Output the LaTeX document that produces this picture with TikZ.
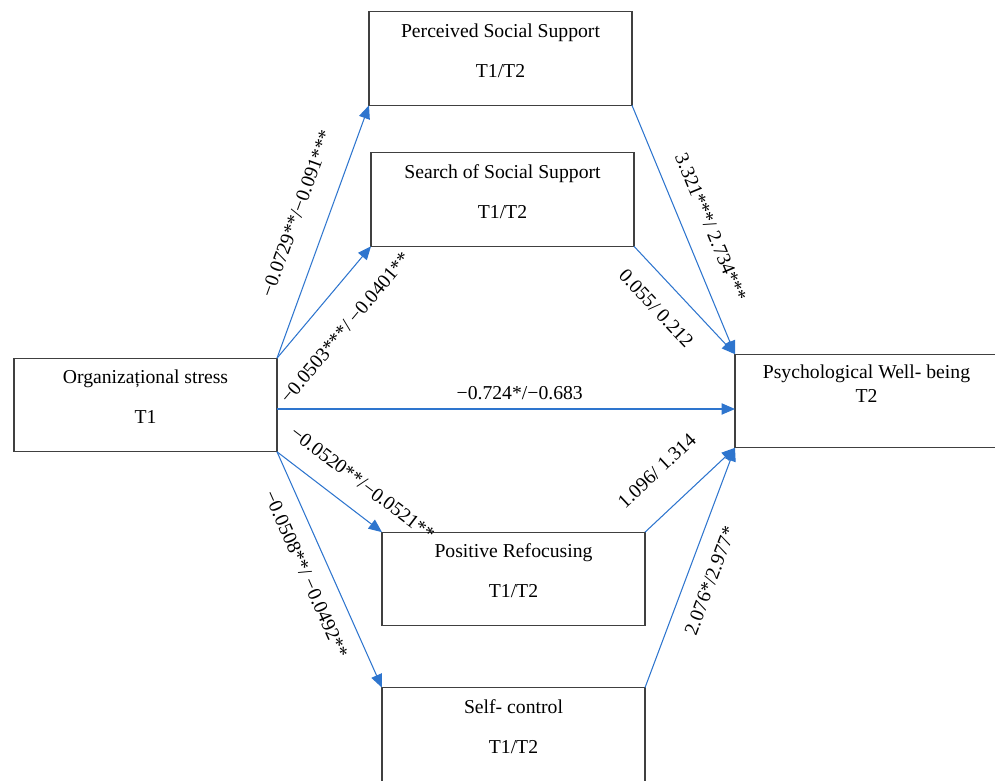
\documentclass[tikz,border=0pt]{standalone}
\usepackage{fontspec}
\setmainfont{Liberation Serif}
\usetikzlibrary{arrows.meta}
\definecolor{pathblue}{RGB}{46,117,206}
\definecolor{boxgray}{RGB}{64,64,64}
\begin{document}
\begin{tikzpicture}[font=\fontsize{14}{17}\selectfont,
  varbox/.style={draw=boxgray,line width=.9pt,minimum width=6.575cm,minimum height=2.34cm,inner sep=0pt,outer sep=0pt,align=center},
  effect/.style={draw=pathblue,line width=.75pt,-{Triangle[length=9.5pt,width=8pt]}},
  coef/.style={sloped,inner sep=0pt}]
\useasboundingbox (0,0) rectangle (24.875,-19.525);
\clip (0,0) rectangle (24.875,-19.525);
\node[varbox] (pss) at (12.5125,-1.4625) {Perceived Social Support\\[11.5pt]T1/T2\\[-5.4pt]\mbox{}};
\node[varbox] (sss) at (12.5625,-4.9875) {Search of Social Support\\[11.5pt]T1/T2\\[-5.4pt]\mbox{}};
\node[varbox] (org) at (3.6375,-10.125) {Organizațional stress\\[11.5pt]T1\\[-5.4pt]\mbox{}};
\node[varbox] (pwb) at (21.6625,-10.025) {Psychological Well- being\\T2\\[7.4pt]\mbox{}};
\node[varbox] (pr) at (12.8375,-14.475) {Positive Refocusing\\[11.5pt]T1/T2\\[-5.4pt]\mbox{}};
\node[varbox] (sc) at (12.8375,-18.3625) {Self- control\\[11.5pt]T1/T2\\[-5.4pt]\mbox{}};
% stress to mediators
\draw[effect] (org.north east) -- node[coef,pos=.53,above=17pt] {−0.0729**/−0.091***} (pss.south west);
\draw[effect] (org.north east) -- node[coef,pos=.46,below=18pt] {−0.0503***/ −0.0401**} (sss.south west);
\draw[effect] ([yshift=-.1cm]org.east) -- node[coef,pos=.53,above=6pt] {−0.724*/−0.683} ([yshift=-.1cm]org.east -| pwb.west);
\draw[effect] (org.south east) -- node[coef,pos=.66,above=14pt] {−0.0520**/−0.0521**} (pr.north west);
\draw[effect] (org.south east) -- node[coef,pos=.48,below=11.5pt] {−0.0508**/ −0.0492**} (sc.north west);
% mediators to well-being
\draw[effect] (pss.south east) -- node[coef,pos=.53,above=13.5pt] {3.321***/ 2.734***} (pwb.north west);
\draw[effect] (sss.south east) -- node[coef,pos=.41,below=13.5pt] {0.055/ 0.212} (pwb.north west);
\draw[effect] (pr.north east) -- node[coef,pos=.41,above=21pt] {1.096/ 1.314} (pwb.south west);
\draw[effect] (sc.north east) -- node[coef,pos=.48,below=11.5pt] {2.076*/2.977*} (pwb.south west);
\end{tikzpicture}
\end{document}
